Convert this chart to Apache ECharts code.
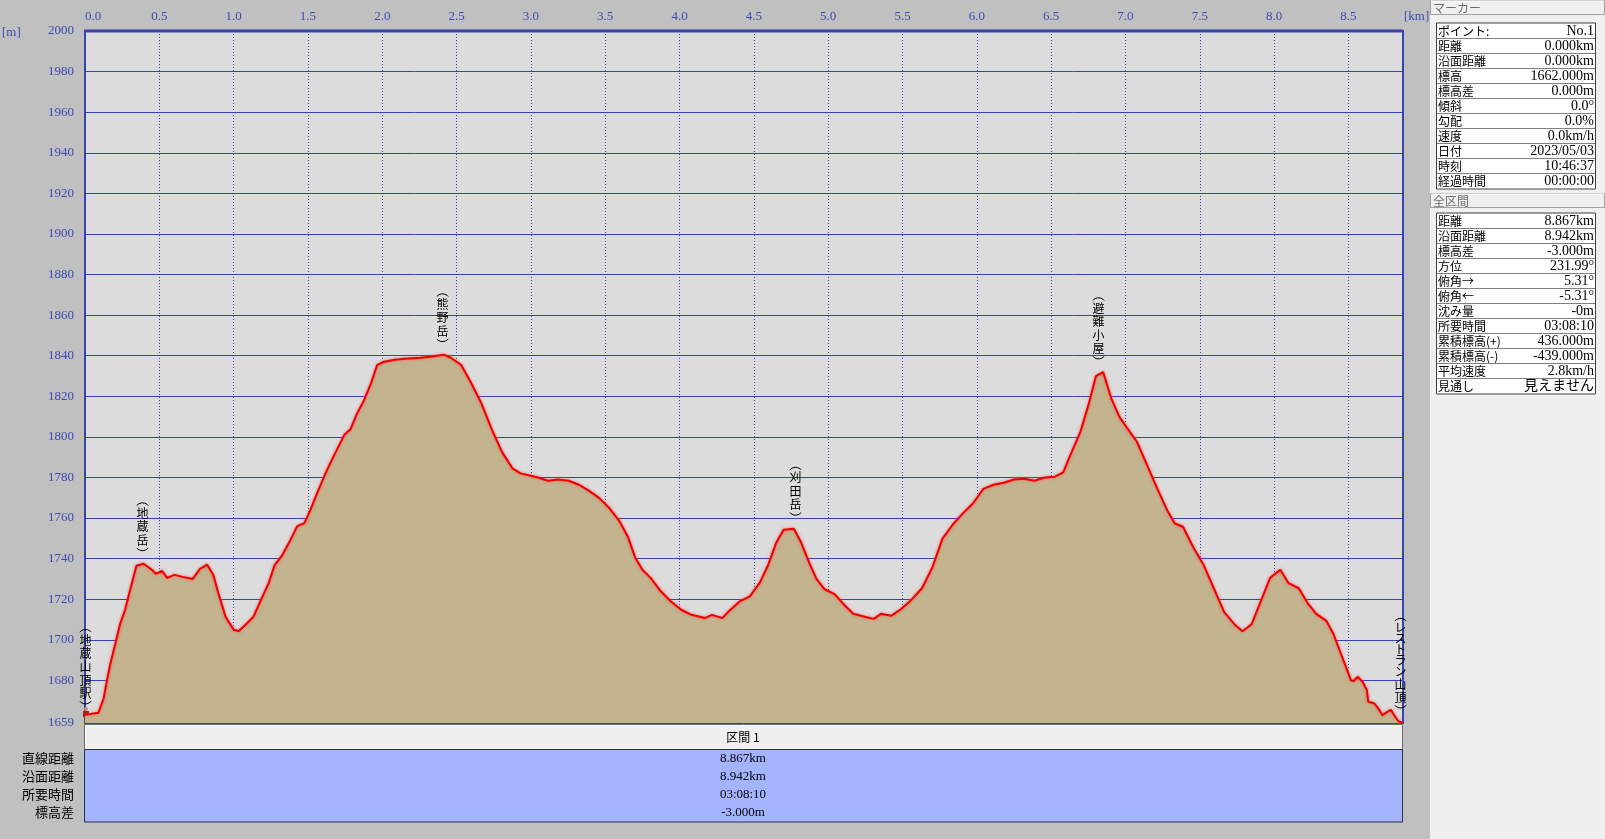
<!DOCTYPE html>
<html><head><meta charset="utf-8">
<script src="https://cdn.jsdelivr.net/npm/echarts@6/dist/echarts.min.js"></script>
<style>html,body{margin:0;padding:0;background:#c0c0c0;}#c{width:1605px;height:839px;}</style>
</head><body><div id="c"></div><script>
// ---- profile data (distance km / elevation m) ----
const distKm = [0.00,0.09,0.125,0.148,0.170,0.204,0.237,0.271,0.291,0.346,0.394,0.450,0.477,0.518,0.553,0.601,0.657,0.725,0.774,0.822,0.863,0.897,0.946,1.001,1.035,1.083,1.132,1.187,1.235,1.276,1.324,1.373,1.428,1.476,1.511,1.566,1.621,1.676,1.745,1.786,1.828,1.876,1.924,1.966,2.013,2.083,2.151,2.255,2.323,2.413,2.461,2.530,2.599,2.668,2.737,2.805,2.875,2.930,2.992,3.047,3.116,3.185,3.254,3.323,3.392,3.460,3.529,3.598,3.653,3.701,3.750,3.805,3.874,3.942,4.011,4.080,4.170,4.218,4.287,4.335,4.404,4.473,4.542,4.597,4.652,4.700,4.769,4.817,4.872,4.921,4.976,5.045,5.100,5.169,5.252,5.307,5.355,5.424,5.493,5.562,5.631,5.700,5.768,5.837,5.906,5.975,6.044,6.113,6.181,6.250,6.319,6.388,6.457,6.526,6.581,6.629,6.698,6.753,6.801,6.850,6.905,6.960,7.008,7.077,7.146,7.215,7.284,7.332,7.387,7.456,7.525,7.594,7.663,7.732,7.787,7.849,7.904,7.973,8.042,8.097,8.166,8.228,8.283,8.352,8.400,8.450,8.483,8.517,8.535,8.562,8.595,8.624,8.633,8.673,8.696,8.729,8.763,8.786,8.808,8.835,8.867];
const elevM = [1663,1664,1671,1680,1688,1698,1708,1715,1721,1736.5,1737.5,1734.5,1732.5,1734,1730.5,1732,1731,1730,1735,1737,1732,1723,1711.3,1704.8,1704.3,1707.7,1711.2,1720.2,1727.8,1736.8,1741.3,1747.9,1756,1757.5,1763,1773,1782.5,1791,1801,1803.7,1811.2,1817.8,1826.4,1835.5,1837,1838,1838.5,1839,1839.5,1840.5,1839,1835.5,1826.4,1816.3,1803.7,1792.6,1784.5,1782,1781,1780,1778.4,1779,1778.4,1776.4,1773.4,1769.8,1764.8,1758.2,1750.7,1740.6,1734.5,1730.5,1723.9,1718.9,1714.8,1712.3,1710.7,1712.3,1710.7,1714.3,1718.9,1721.4,1728.4,1737,1748.1,1754.2,1754.7,1748.1,1738,1730,1724.9,1722.4,1717.8,1712.8,1711.2,1710.3,1712.8,1711.8,1715.3,1719.9,1725.4,1735.5,1749.7,1756.7,1762.3,1767.3,1774.4,1776.4,1777.4,1779,1779.4,1778.4,1780,1780.4,1782.5,1791,1802.7,1816.3,1829.9,1831.9,1818.8,1809.7,1804.7,1797.6,1786,1774.4,1763.3,1757.3,1755.7,1745.6,1737,1725.4,1713.8,1707.7,1704.2,1707.7,1717.8,1730.5,1734.5,1727.9,1725.4,1717.8,1712.8,1709.3,1702.7,1693,1686.7,1680,1679.7,1681.8,1679.3,1675.2,1669.5,1668.7,1666.7,1662.8,1664.6,1665.4,1662.8,1660,1659];

// ---- axis ticks ----
const xMin = 0, xMax = 8.867, xStep = 0.5;
const yMin = 1659, yMax = 2000;
const yTickValues = [1659,1680,1700,1720,1740,1760,1780,1800,1820,1840,1860,1880,1900,1920,1940,1960,1980,2000];

// ---- place labels ----
const placeNames = ['地蔵山頂駅','地蔵岳','熊野岳','刈田岳','避難小屋','レストラン山頂'];
const placeKm = [0.0, 0.386, 2.40, 4.775, 6.814, 8.85];
const placeElev = [1662, 1737.5, 1840.5, 1755, 1832, 1660];

// ---- side panels ----
const markerTitle = 'マーカー';
const markerLabels = ['ポイント:','距離','沿面距離','標高','標高差','傾斜','勾配','速度','日付','時刻','経過時間'];
const markerValues = ['No.1','0.000km','0.000km','1662.000m','0.000m','0.0°','0.0%','0.0km/h','2023/05/03','10:46:37','00:00:00'];
const totalTitle = '全区間';
const totalLabels = ['距離','沿面距離','標高差','方位','俯角→','俯角←','沈み量','所要時間','累積標高(+)','累積標高(-)','平均速度','見通し'];
const totalValues = ['8.867km','8.942km','-3.000m','231.99°','5.31°','-5.31°','-0m','03:08:10','436.000m','-439.000m','2.8km/h','見えません'];

// ---- section table ----
const sectionTitle = '区間 1';
const sectionLabels = ['直線距離','沿面距離','所要時間','標高差'];
const sectionValues = ['8.867km','8.942km','03:08:10','-3.000m'];

const JP = '"Noto Sans CJK JP", sans-serif';
const NUM = '"Liberation Serif", "Noto Sans CJK JP", serif';
const AXC = '#3b4bb4';

const chart = echarts.init(document.getElementById('c'), null, {renderer:'canvas'});

chart.setOption({
  animation:false,
  backgroundColor:'#c0c0c0',
  grid:{left:85, top:31, width:1318, height:692, show:true, backgroundColor:'#dcdcdc', borderColor:'#3a44b0', borderWidth:2, containLabel:false},
  xAxis:{type:'value', position:'top', min:xMin, max:xMax, interval:xStep,
    axisLine:{show:false}, axisTick:{show:false},
    axisLabel:{formatter:v=>v.toFixed(1), showMaxLabel:false, alignMinLabel:'left', color:AXC, fontFamily:NUM, fontSize:13, margin:8},
    splitLine:{show:true, lineStyle:{type:[1,2], color:'#3040b0', width:1}}},
  yAxis:{type:'value', min:yMin, max:yMax,
    axisLine:{show:false}, axisTick:{show:false, customValues:yTickValues},
    axisLabel:{customValues:yTickValues, formatter:v=>String(v), color:AXC, fontFamily:NUM, fontSize:13, margin:11},
    splitLine:{show:true, lineStyle:{color:'#3344bb', width:1}}},
  series:[
    {type:'line', data:distKm.map((d,i)=>[d, elevM[i]]), symbol:'none', z:3,
      lineStyle:{color:'#ee0000', width:2, shadowBlur:3, shadowColor:'rgba(255,70,70,0.8)'},
      areaStyle:{color:'#c3b38e', opacity:1, origin:'start'}}
  ]
});

const graphics = [];
// right panel
graphics.push({type:'rect', shape:{x:1430,y:0,width:175,height:839}, style:{fill:'#f0f0f0'}, z:0});
function panel(title, titleY, labels, values, boxTop){
  graphics.push({type:'rect', shape:{x:1430.5,y:titleY+0.5,width:174,height:14}, style:{fill:'#f0f0f0', stroke:'#a0a0a0', lineWidth:1}});
  graphics.push({type:'line', shape:{x1:1431,y1:titleY+1,x2:1604,y2:titleY+1}, style:{stroke:'#ffffff'}});
  graphics.push({type:'text', style:{text:title, x:1433, y:titleY+8, fill:'#707070', font:'12px '+JP, textVerticalAlign:'middle'}});
  const h = labels.length*15;
  graphics.push({type:'rect', shape:{x:1436.5,y:boxTop,width:159,height:h+1}, style:{fill:'#ffffff', stroke:'#404040', lineWidth:1}});
  for(let i=0;i<labels.length;i++){
    const cy = boxTop + 8 + 15*i;
    if(i>0) graphics.push({type:'line', shape:{x1:1437,y1:boxTop+0.5+15*i,x2:1595,y2:boxTop+0.5+15*i}, style:{stroke:'#808080', lineWidth:1}});
    graphics.push({type:'text', style:{text:labels[i], x:1438, y:cy, fill:'#000', font:'12px '+JP, textVerticalAlign:'middle'}});
    graphics.push({type:'text', style:{text:values[i], x:1594, y:cy, fill:'#000', font:'14px '+NUM, textAlign:'right', textVerticalAlign:'middle'}});
  }
}
panel(markerTitle, 0, markerLabels, markerValues, 23);
panel(totalTitle, 193, totalLabels, totalValues, 213);

// axis units
graphics.push({type:'text', style:{text:'[km]', x:1404, y:17, fill:AXC, font:'13px '+NUM, textVerticalAlign:'middle'}});
graphics.push({type:'text', style:{text:'[m]', x:2, y:33, fill:AXC, font:'13px '+NUM, textVerticalAlign:'middle'}});

// section table
graphics.push({type:'rect', shape:{x:84.5,y:724.5,width:1318,height:25}, style:{fill:'#f0f0f0', stroke:'#6a6a6a', lineWidth:1}});
graphics.push({type:'polyline', shape:{points:[[85.5,748],[85.5,725.5],[1401,725.5]]}, style:{stroke:'#ffffff', fill:null}});
graphics.push({type:'text', style:{text:sectionTitle, x:743, y:737, fill:'#000', font:'12px '+JP, textAlign:'center', textVerticalAlign:'middle'}});
graphics.push({type:'rect', shape:{x:84.5,y:749.5,width:1318,height:72.5}, style:{fill:'#a4b4fe', stroke:'#303040', lineWidth:1}});
for(let i=0;i<sectionLabels.length;i++){
  const cy = 758.5 + 18*i;
  graphics.push({type:'text', style:{text:sectionLabels[i], x:74, y:cy, fill:'#000', font:'13px '+JP, textAlign:'right', textVerticalAlign:'middle'}});
  graphics.push({type:'text', style:{text:sectionValues[i], x:743, y:cy, fill:'#000', font:'13px '+NUM, textAlign:'center', textVerticalAlign:'middle'}});
}
// top border emphasis
graphics.push({type:'line', shape:{x1:84,y1:31,x2:1403,y2:31}, style:{stroke:'#3a44a8', lineWidth:3}, z:10});

// vertical place labels, positioned through the chart's scales
function isKana(c){ const u=c.codePointAt(0); return u>=0x30A0 && u<=0x30FF; }
for(let i=0;i<placeNames.length;i++){
  const p = chart.convertToPixel({gridIndex:0}, [placeKm[i], placeElev[i]]);
  const px = Math.round(p[0]) + 0.5;
  const bottom = p[1] - 13;
  const chars = Array.from(placeNames[i]);
  // bottom bracket
  graphics.push({type:'arc', z:20, shape:{cx:px, cy:bottom-7.5, r:7.5, startAngle:0.70, endAngle:Math.PI-0.70}, style:{stroke:'#000', lineWidth:1, fill:null}});
  let yCur = bottom - 4;
  for(let k=chars.length-1;k>=0;k--){
    const pitch = isKana(chars[k]) ? 11 : 13.3;
    graphics.push({type:'text', z:20, style:{text:chars[k], x:px, y:yCur - pitch/2, fill:'#000', font:'12px '+JP, textAlign:'center', textVerticalAlign:'middle'}});
    yCur -= pitch;
  }
  const topY = yCur - 4;
  graphics.push({type:'arc', z:20, shape:{cx:px, cy:topY+7.5, r:7.5, startAngle:Math.PI+0.70, endAngle:2*Math.PI-0.70}, style:{stroke:'#000', lineWidth:1, fill:null}});
}

// hiker icon
graphics.push({type:'group', z:30, children:[
  {type:'circle', shape:{cx:86,cy:709,r:2}, style:{fill:'#c89070'}},
  {type:'rect', shape:{x:83,y:711,width:6,height:6}, style:{fill:'#9a2020'}},
  {type:'rect', shape:{x:84,y:717,width:2,height:6}, style:{fill:'#505050'}},
  {type:'rect', shape:{x:87,y:717,width:2,height:6}, style:{fill:'#505050'}}
]});

chart.setOption({graphic:graphics});
</script></body></html>
